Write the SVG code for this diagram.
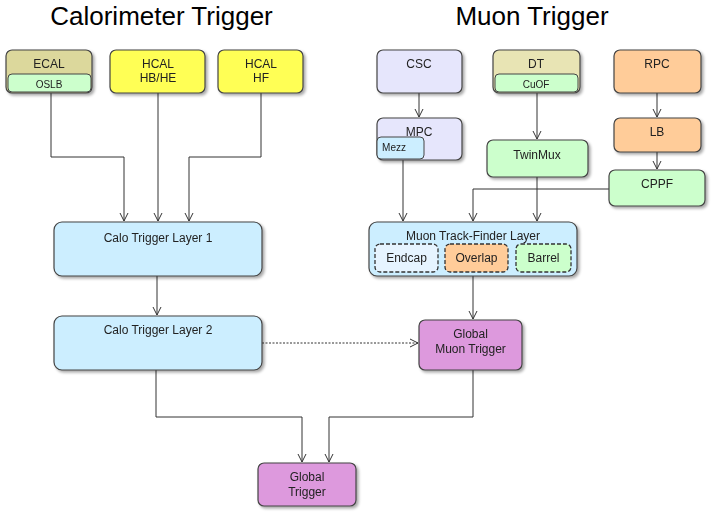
<svg xmlns="http://www.w3.org/2000/svg" width="712" height="513" viewBox="0 0 712 513">
<defs>
<filter id="sh" x="-10%" y="-10%" width="130%" height="140%">
<feGaussianBlur in="SourceAlpha" stdDeviation="1.5"/>
<feOffset dx="2" dy="2" result="b"/>
<feComponentTransfer><feFuncA type="linear" slope="0.35"/></feComponentTransfer>
<feMerge><feMergeNode/><feMergeNode in="SourceGraphic"/></feMerge>
</filter>
<marker id="ar" markerWidth="10" markerHeight="10" refX="9" refY="5" orient="auto" markerUnits="userSpaceOnUse">
<path d="M1,1 L9,5 L1,9" fill="none" stroke="#333" stroke-width="1"/>
</marker>
</defs>
<style>
.box{stroke:#444;stroke-width:1.2}
.in{stroke:#444;stroke-width:1}
.dash{stroke:#333;stroke-width:1.3;stroke-dasharray:4,2}
text{font-family:"Liberation Sans",Arial,sans-serif;fill:#222;text-anchor:middle}
.t{font-size:12px}
.s{font-size:10px}
.h{font-size:26px;fill:#000}
.c{fill:none;stroke:#333;stroke-width:1;marker-end:url(#ar)}
</style>
<rect width="712" height="513" fill="#fff"/>
<text class="h" x="161.5" y="25">Calorimeter Trigger</text>
<text class="h" x="532" y="25">Muon Trigger</text>

<g id="connectors">
<path class="c" d="M51,93 V157 H124 V221"/>
<path class="c" d="M158,93 V221"/>
<path class="c" d="M261,93 V157 H189 V221"/>
<path class="c" d="M157,276 V315"/>
<path class="c" d="M262,343 H418" stroke-dasharray="2,1.5"/>
<path class="c" d="M156,370 V417 H302 V462"/>
<path class="c" d="M473,370 V417 H329 V462"/>
<path class="c" d="M419,93 V117"/>
<path class="c" d="M403,160 V221"/>
<path class="c" d="M537,93 V139"/>
<path class="c" d="M537,177 V221"/>
<path class="c" d="M657,93 V117"/>
<path class="c" d="M657,152 V169"/>
<path class="c" d="M609,189 H473 V221"/>
<path class="c" d="M473,276 V319"/>
</g>

<g id="ecal" filter="url(#sh)">
<rect class="box" x="6" y="50" width="86" height="43" rx="6" fill="#dcd89c"/>
<rect class="in" x="8" y="74" width="83" height="18" rx="4" fill="#ccffcc"/>
<text class="t" x="49" y="68">ECAL</text>
<text class="s" x="49" y="88">OSLB</text>
</g>
<g id="hcal-hbhe" filter="url(#sh)">
<rect class="box" x="110" y="50" width="95" height="43" rx="6" fill="#ffff55"/>
<text class="t" x="158" y="68">HCAL</text>
<text class="t" x="158" y="82">HB/HE</text>
</g>
<g id="hcal-hf" filter="url(#sh)">
<rect class="box" x="218" y="50" width="85" height="43" rx="6" fill="#ffff55"/>
<text class="t" x="261" y="68">HCAL</text>
<text class="t" x="261" y="82">HF</text>
</g>
<g id="calo-l1" filter="url(#sh)">
<rect class="box" x="54" y="222" width="208" height="54" rx="8" fill="#cceeff"/>
<text class="t" x="158" y="242">Calo Trigger Layer 1</text>
</g>
<g id="calo-l2" filter="url(#sh)">
<rect class="box" x="54" y="316" width="208" height="54" rx="8" fill="#cceeff"/>
<text class="t" x="158" y="334">Calo Trigger Layer 2</text>
</g>
<g id="gt" filter="url(#sh)">
<rect class="box" x="258" y="463" width="98" height="43" rx="6" fill="#dd99dd"/>
<text class="t" x="307" y="481">Global</text>
<text class="t" x="307" y="496">Trigger</text>
</g>

<g id="csc" filter="url(#sh)">
<rect class="box" x="377" y="50" width="85" height="43" rx="6" fill="#e6e6fc"/>
<text class="t" x="419" y="68">CSC</text>
</g>
<g id="mpc" filter="url(#sh)">
<rect class="box" x="377" y="118" width="85" height="42" rx="6" fill="#e6e6fc"/>
<text class="t" x="419" y="136">MPC</text>
<rect class="in" x="377" y="137" width="47" height="22" rx="4" fill="#cceeff"/>
<text class="s" x="394" y="151">Mezz</text>
</g>
<g id="dt" filter="url(#sh)">
<rect class="box" x="493" y="50" width="87" height="43" rx="6" fill="#e8e4b4"/>
<rect class="in" x="495" y="74" width="83" height="18" rx="4" fill="#ccffcc"/>
<text class="t" x="536" y="68">DT</text>
<text class="s" x="536" y="88">CuOF</text>
</g>
<g id="rpc" filter="url(#sh)">
<rect class="box" x="614" y="50" width="87" height="43" rx="6" fill="#ffcc99"/>
<text class="t" x="657" y="68">RPC</text>
</g>
<g id="twinmux" filter="url(#sh)">
<rect class="box" x="487" y="140" width="101" height="37" rx="6" fill="#ccffcc"/>
<text class="t" x="537" y="159">TwinMux</text>
</g>
<g id="lb" filter="url(#sh)">
<rect class="box" x="614" y="118" width="87" height="34" rx="6" fill="#ffcc99"/>
<text class="t" x="657" y="136">LB</text>
</g>
<g id="cppf" filter="url(#sh)">
<rect class="box" x="609" y="170" width="96" height="36" rx="6" fill="#ccffcc"/>
<text class="t" x="657" y="188">CPPF</text>
</g>
<g id="mtf" filter="url(#sh)">
<rect class="box" x="369" y="222" width="208" height="54" rx="8" fill="#cceeff"/>
<text class="t" x="473" y="240">Muon Track-Finder Layer</text>
<rect class="dash" x="375" y="244" width="63" height="28" rx="5" fill="#e6f4ff"/>
<text class="t" x="406.5" y="262">Endcap</text>
<rect class="dash" x="445" y="244" width="63" height="28" rx="5" fill="#ffcc99"/>
<text class="t" x="476.5" y="262">Overlap</text>
<rect class="dash" x="516" y="244" width="55" height="28" rx="5" fill="#ccffcc"/>
<text class="t" x="543.5" y="262">Barrel</text>
</g>
<g id="gmt" filter="url(#sh)">
<rect class="box" x="419" y="320" width="103" height="50" rx="6" fill="#dd99dd"/>
<text class="t" x="470.5" y="338">Global</text>
<text class="t" x="470.5" y="353">Muon Trigger</text>
</g>
</svg>
